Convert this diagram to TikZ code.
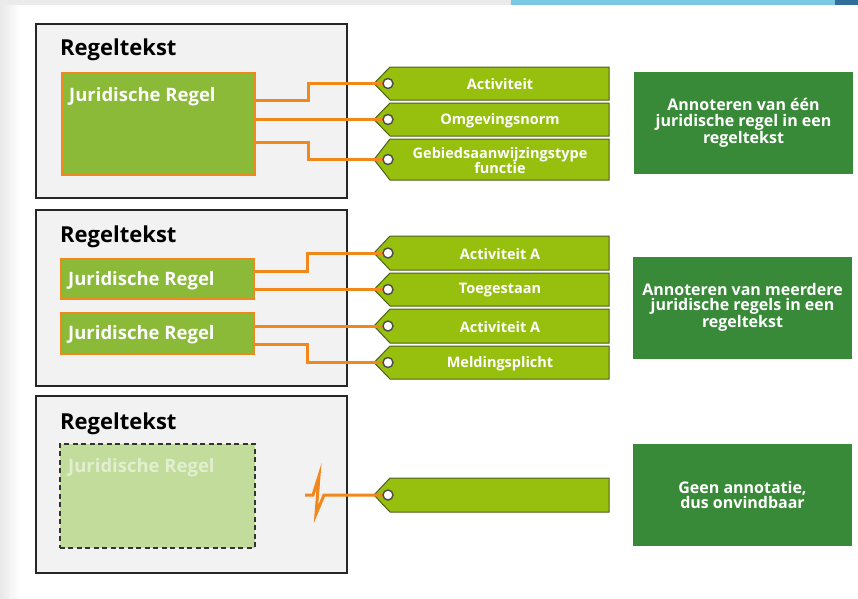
\documentclass[tikz,border=0pt]{standalone}
\usepackage{fontspec}
\setmainfont{Open Sans}
\definecolor{panelgray}{RGB}{242,242,242}
\definecolor{rulegreen}{RGB}{138,186,56}
\definecolor{ghostgreen}{RGB}{194,220,155}
\definecolor{ghosttext}{RGB}{226,238,208}
\definecolor{linkorange}{RGB}{240,136,28}
\definecolor{taggreen}{RGB}{151,191,14}
\definecolor{tagedge}{RGB}{78,96,30}
\definecolor{notegreen}{RGB}{56,138,56}
\definecolor{barblue}{RGB}{122,200,226}
\definecolor{bardark}{RGB}{50,110,155}
\newcommand\labeltag[4]{%
  \filldraw[tagbody] (374,#2) -- (390,#2-#3) -- (609,#2-#3) -- (609,#2+#3) -- (390,#2+#3) -- cycle;
  \node[tagtext] (#1) at (500,#2+1) {#4};
  \coordinate (#1-h) at (388,#2);}
\begin{document}
\begin{tikzpicture}[x=1pt,y=-1pt, line join=miter,
  panel/.style={draw=black!85,line width=2.2pt,fill=panelgray,anchor=north west,inner sep=0pt},
  rule/.style={draw=linkorange,line width=2.4pt,fill=rulegreen,anchor=north west,inner sep=0pt},
  ghost/.style={draw=black!80,line width=1.8pt,dash pattern=on 5pt off 3.5pt,fill=ghostgreen,anchor=north west,inner sep=0pt},
  title/.style={anchor=base west,inner sep=0pt,font=\bfseries\fontsize{22}{26}\selectfont},
  ruletext/.style={anchor=base west,inner sep=0pt,text=white,font=\bfseries\fontsize{18.5}{22}\selectfont},
  tagbody/.style={fill=taggreen,draw=tagedge,line width=1pt},
  tagtext/.style={text=white,align=center,inner sep=0pt,font=\bfseries\fontsize{14.5}{14}\selectfont},
  hole/.style={fill=white,draw=black!70,line width=1.4pt},
  link/.style={draw=linkorange,line width=3pt},
  note/.style={fill=notegreen,text=white,align=center,inner sep=0pt,minimum width=219pt,minimum height=102pt,font=\bfseries\fontsize{16}{15.5}\selectfont}]
\useasboundingbox (0,0) rectangle (858,598);
\fill[white] (0,0) rectangle (858,598);
\fill[left color=black!9,right color=white] (0,0) rectangle (20,598);
\fill[black!8] (0,0) rectangle (511,5);
\fill[barblue] (511,0) rectangle (835,5);
\fill[bardark] (835,0) rectangle (858,5);

\node[panel,minimum width=311pt,minimum height=174pt] (p1) at (35,23) {};
\node[panel,minimum width=311pt,minimum height=176pt] (p2) at (35,209) {};
\node[panel,minimum width=311pt,minimum height=177pt] (p3) at (35,395) {};
\node[title] (p1t) at ([shift={(25,32)}]p1.north west) {Regeltekst};
\node[title] (p2t) at ([shift={(25,33)}]p2.north west) {Regeltekst};
\node[title] (p3t) at ([shift={(25,34)}]p3.north west) {Regeltekst};

\node[rule,minimum width=193pt,minimum height=102pt] (jr1) at (61,72) {};
\node[rule,minimum width=193pt,minimum height=40pt] (jr2) at (60,258) {};
\node[rule,minimum width=193pt,minimum height=41pt] (jr3) at (60,312) {};
\node[ghost,minimum width=195pt,minimum height=104pt] (jr4) at (59,443) {};
\node[ruletext] (jr1t) at ([shift={(8,29)}]jr1.north west) {Juridische Regel};
\node[ruletext] (jr2t) at ([shift={(8,27)}]jr2.north west) {Juridische Regel};
\node[ruletext] (jr3t) at ([shift={(8,27)}]jr3.north west) {Juridische Regel};
\node[ruletext,text=ghosttext] (jr4t) at ([shift={(9,29)}]jr4.north west) {Juridische Regel};

\labeltag{t1}{83.5}{16.5}{Activiteit}
\labeltag{t2}{119.5}{16.5}{Omgevingsnorm}
\labeltag{t3}{159.5}{20.5}{Gebiedsaanwijzingstype\\functie}
\labeltag{t4}{253}{17}{Activiteit A}
\labeltag{t5}{289.5}{16.5}{Toegestaan}
\labeltag{t6}{326}{17}{Activiteit A}
\labeltag{t7}{362.5}{16.5}{Meldingsplicht}
\labeltag{t8}{495}{17}{}

\draw[link] ([shift={(0,28)}]jr1.north east) -- ++(52,0) |- (t1-h);
\draw[link] (jr1.east |- t2-h) -- (t2-h);
\draw[link] ([shift={(0,70)}]jr1.north east) -- ++(52,0) |- (t3-h);
\draw[link] ([shift={(0,13)}]jr2.north east) -- ++(52,0) |- (t4-h);
\draw[link] (jr2.east |- t5-h) -- (t5-h);
\draw[link] (jr3.east |- t6-h) -- (t6-h);
\draw[link] ([shift={(0,32)}]jr3.north east) -- ++(52,0) |- (t7-h);
\coordinate (brk) at (305,495);
\draw[link] (brk) -- ++(8,0) -- ++(6,-19) -- ++(-3,38) -- ++(8,-19) -- (t8-h);
\foreach \t in {t1,t2,t3,t4,t5,t6,t7,t8} \filldraw[hole] (\t-h) circle (5);

\node[note] (n1) at (743.5,123) {Annoteren van één\\juridische regel in een\\regeltekst};
\node[note] (n2) at (742.5,307.5) {Annoteren van meerdere\\juridische regels in een\\regeltekst};
\node[note] (n3) at (742.5,495) {Geen annotatie,\\dus onvindbaar};
\end{tikzpicture}
\end{document}
